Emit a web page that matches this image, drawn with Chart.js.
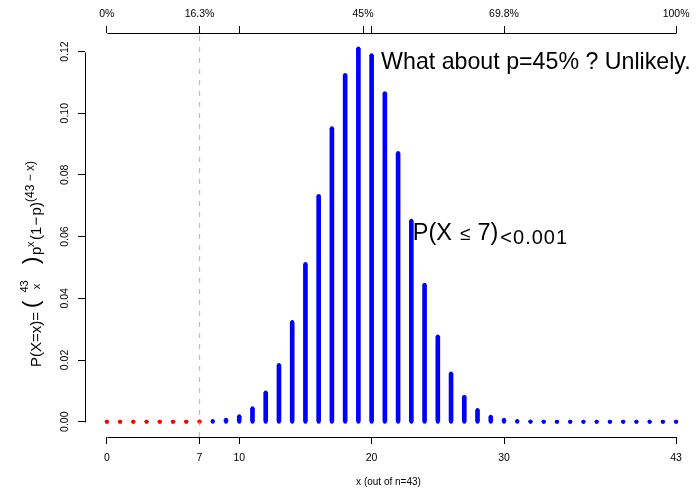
<!DOCTYPE html>
<html>
<head>
<meta charset="utf-8">
<script src="https://cdn.jsdelivr.net/npm/chart.js@4"></script>
<style>
  body { margin: 0; background: #fff; }
</style>
</head>
<body>
<canvas id="myChart" width="696" height="490"></canvas>
<script>
// Binomial probabilities, n = 43, p = 0.45
const xValues = [0, 1, 2, 3, 4, 5, 6, 7, 8, 9, 10, 11, 12, 13, 14, 15, 16, 17, 18, 19, 20, 21,
  22, 23, 24, 25, 26, 27, 28, 29, 30, 31, 32, 33, 34, 35, 36, 37, 38, 39, 40, 41, 42, 43];
const probs = [0, 0, 0, 0, 0.0000004, 0.0000024, 0.0000125, 0.0000541, 0.000199, 0.000634,
  0.00176, 0.00433, 0.00945, 0.0184, 0.0323, 0.0511, 0.0732, 0.0951, 0.1124, 0.1210,
  0.1188, 0.1065, 0.0871, 0.0651, 0.0444, 0.0276, 0.0156, 0.0081, 0.0038, 0.0016,
  0.0006, 0.0002, 0.00006, 0.00002, 0, 0, 0, 0, 0, 0, 0, 0, 0, 0];
const cutoff = 7;

// axis ticks
const bottomTicks = [0, 7, 10, 20, 30, 43];
const topTicks = [0, 7, 10, 19.35, 20, 30, 43];
const topLabels = ['0%', '16.3%', '', '45%', '', '69.8%', '100%'];
const yTicks = [0, 0.02, 0.04, 0.06, 0.08, 0.10, 0.12];

const FONT = '"Liberation Sans", Arial, sans-serif';
const colors = xValues.map(x => x <= cutoff ? '#ff0000' : '#0000ff');

// R-like axis lines, only from first to last tick
const axisLines = {
  id: 'axisLines',
  afterDraw(chart) {
    const {ctx, chartArea: a, scales} = chart;
    ctx.save();
    ctx.strokeStyle = '#000';
    ctx.lineWidth = 1;
    ctx.beginPath();
    let bx0 = Math.round(scales.x.getPixelForValue(bottomTicks[0])) + 0.5;
    let bx1 = Math.round(scales.x.getPixelForValue(bottomTicks[bottomTicks.length - 1])) + 0.5;
    ctx.moveTo(bx0, Math.round(a.bottom) + 0.5);
    ctx.lineTo(bx1, Math.round(a.bottom) + 0.5);
    ctx.moveTo(bx0, Math.round(a.top) + 0.5);
    ctx.lineTo(bx1, Math.round(a.top) + 0.5);
    let y0 = Math.round(scales.y.getPixelForValue(yTicks[0])) + 0.5;
    let y1 = Math.round(scales.y.getPixelForValue(yTicks[yTicks.length - 1])) + 0.5;
    ctx.moveTo(Math.round(a.left) + 0.5, y0);
    ctx.lineTo(Math.round(a.left) + 0.5, y1);
    ctx.stroke();
    ctx.restore();
  }
};

// text notes + y axis title with the binomial formula
const notes = {
  id: 'notes',
  afterDraw(chart) {
    const {ctx, scales: {x, y}} = chart;
    ctx.save();
    ctx.fillStyle = '#000';
    ctx.textBaseline = 'alphabetic';
    ctx.textAlign = 'left';

    ctx.font = '23.2px ' + FONT;
    ctx.fillText('What about p=45% ? Unlikely.', x.getPixelForValue(20) + 9.5, y.getPixelForValue(0.1168) + 8);

    let px = x.getPixelForValue(23) + 1.5;
    let py = y.getPixelForValue(0.0615) + 8;
    ctx.font = '23.5px ' + FONT;
    ctx.fillText('P(X', px, py);
    px += ctx.measureText('P(X').width + 8;
    ctx.font = '19px ' + FONT;
    ctx.fillText('\u2264', px, py);
    px += ctx.measureText('\u2264').width + 7;
    ctx.font = '23.5px ' + FONT;
    ctx.fillText('7)', px, py);
    px += ctx.measureText('7)').width + 2;
    ctx.font = '20px ' + FONT;
    ctx.letterSpacing = '1px';
    ctx.fillText('<0.001', px, py + 4);
    ctx.letterSpacing = '0px';

    // y title, rotated; u runs upward along the axis, v is the offset from the baseline
    const main = '15px ' + FONT, small = '12px ' + FONT, tiny = '11px ' + FONT, big = '22px ' + FONT;
    const parts = [
      {t: 'P(X=x)=', f: main, u: -104, v: 0},
      {t: '(', f: big, u: -45, v: -3},
      {t: '43', f: tiny, u: -23.5, v: -12.4, c: true},
      {t: 'x', f: tiny, u: -23.5, v: -0.5, c: true},
      {t: ')', f: big, u: -1, v: -3},
      {t: 'p', f: main, u: 8, v: 0},
      {t: 'x', f: tiny, u: 16, v: -7},
      {t: '(1\u200a\u2212\u200ap)', f: main, u: 23, v: 0},
      {t: '(43 \u2212 x)', f: small, u: 61, v: -7}
    ];
    ctx.translate(40.7, 263);
    ctx.rotate(-Math.PI / 2);
    parts.forEach(p => {
      ctx.font = p.f;
      ctx.textAlign = p.c ? 'center' : 'left';
      ctx.fillText(p.t, p.u, p.v);
    });
    ctx.restore();
  }
};

const ctx = document.getElementById('myChart');

const chart = new Chart(ctx, {
  type: 'bar',
  data: {
    datasets: [
      {
        type: 'line',
        data: [{x: cutoff, y: -0.00496}, {x: cutoff, y: 0.126}],
        borderColor: 'rgba(170, 170, 170, 0.75)',
        borderWidth: 1.2,
        borderDash: [5, 6],
        pointRadius: 0,
        order: 0
      },
      {
        type: 'scatter',
        data: xValues.map((x, i) => ({x: x, y: probs[i]})),
        pointRadius: 2,
        pointBorderWidth: 0,
        pointBackgroundColor: colors,
        order: 1
      },
      {
        type: 'scatter',
        data: xValues.map(x => ({x: x, y: 0})),
        pointRadius: 2,
        pointBorderWidth: 0,
        pointBackgroundColor: colors,
        order: 1
      },
      {
        type: 'bar',
        data: xValues.map((x, i) => ({x: x, y: probs[i]})),
        backgroundColor: colors,
        barThickness: 4,
        grouped: false,
        order: 2
      }
    ]
  },
  options: {
    responsive: false,
    animation: false,
    events: [],
    layout: { padding: 0 },
    plugins: {
      legend: { display: false },
      tooltip: { enabled: false }
    },
    scales: {
      x: {
        type: 'linear',
        position: 'bottom',
        min: -1.65,
        max: 44.2,
        offset: false,
        afterBuildTicks: axis => { axis.ticks = bottomTicks.map(v => ({value: v})); },
        afterFit: axis => { axis.height = 53; axis.paddingLeft = 0; axis.paddingRight = 0; },
        ticks: {
          autoSkip: false,
          maxRotation: 0,
          padding: 8,
          color: '#000',
          font: { family: FONT, size: 10.5 },
          callback: v => String(v)
        },
        grid: { offset: false, drawOnChartArea: false, drawTicks: true, tickLength: 7, color: '#000' },
        border: { display: false },
        title: {
          display: true,
          text: 'x (out of n=43)',
          color: '#000',
          font: { family: FONT, size: 10 },
          padding: { top: 0, bottom: 2 }
        }
      },
      x2: {
        type: 'linear',
        axis: 'x',
        position: 'top',
        min: -1.65,
        max: 44.2,
        offset: false,
        afterBuildTicks: axis => { axis.ticks = topTicks.map(v => ({value: v})); },
        afterFit: axis => { axis.height = 33; axis.paddingLeft = 0; axis.paddingRight = 0; },
        ticks: {
          autoSkip: false,
          maxRotation: 0,
          padding: 6,
          color: '#000',
          font: { family: FONT, size: 10.5 },
          callback: (v, i) => topLabels[i]
        },
        grid: { offset: false, drawOnChartArea: false, drawTicks: true, tickLength: 7, color: '#000' },
        border: { display: false }
      },
      y: {
        type: 'linear',
        min: -0.00496,
        max: 0.126,
        afterBuildTicks: axis => { axis.ticks = yTicks.map(v => ({value: v})); },
        afterFit: axis => { axis.width = 85; },
        ticks: {
          minRotation: 90,
          maxRotation: 90,
          crossAlign: 'center',
          padding: 3,
          color: '#000',
          font: { family: FONT, size: 10.5 },
          callback: v => v.toFixed(2)
        },
        grid: { drawOnChartArea: false, drawTicks: true, tickLength: 7, color: '#000' },
        border: { display: false }
      }
    }
  },
  plugins: [axisLines, notes]
});
</script>
</body>
</html>
